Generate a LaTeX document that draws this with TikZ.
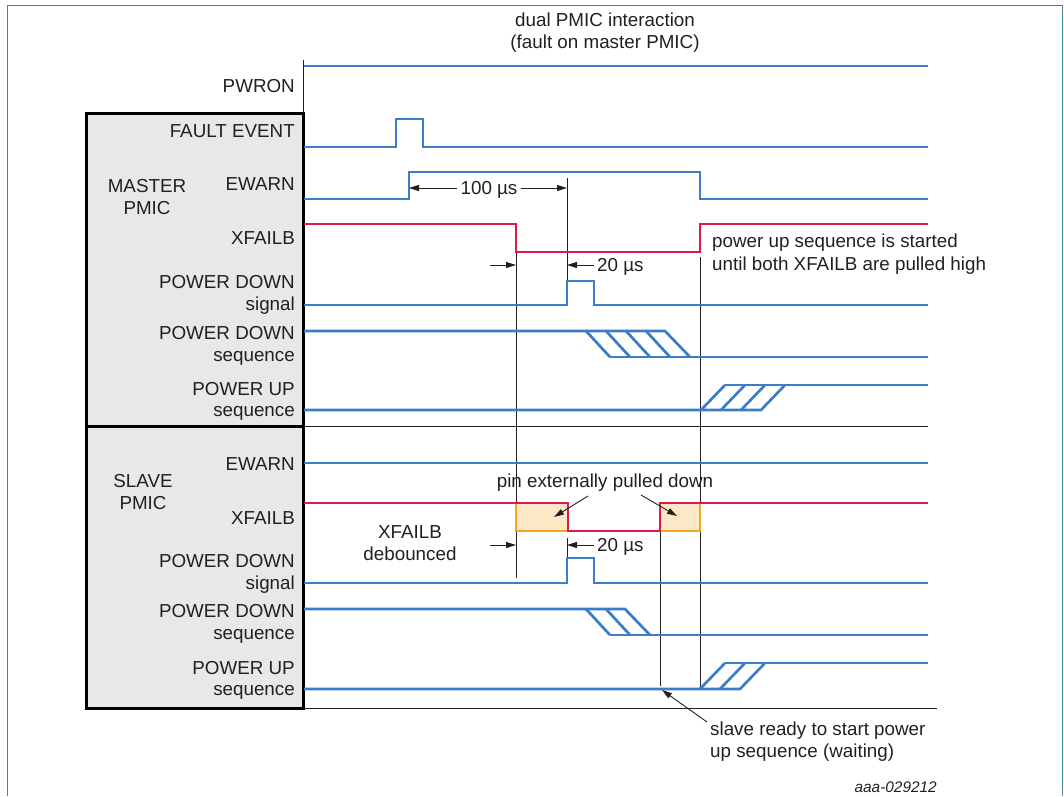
\documentclass[tikz,border=0pt]{standalone}
\usepackage{fontspec}
\setmainfont{Liberation Sans}
\usetikzlibrary{arrows.meta}
\definecolor{sigblue}{HTML}{3B7DC8}
\definecolor{sigred}{HTML}{E2184C}
\definecolor{pinor}{HTML}{F4A623}
\definecolor{pinfill}{HTML}{FCE8C6}
\definecolor{boxgray}{HTML}{E7E8E8}
\definecolor{framec}{HTML}{3A8BA0}
\definecolor{txt}{HTML}{231F20}
\begin{document}
\begin{tikzpicture}[x=1pt,y=-1pt,
  font=\fontsize{18.8}{22}\selectfont,
  lab/.style={anchor=base east, inner sep=0pt, text=txt},
  grp/.style={align=center, inner sep=0pt, text=txt},
  note/.style={anchor=base west, inner sep=0pt, text=txt},
  dimtxt/.style={inner sep=3pt, text height=13pt, text depth=0pt, text=txt},
  sig/.style={draw=sigblue, line width=2.7pt, line join=miter},
  xsig/.style={draw=sigred, line width=2.7pt, line join=miter},
  pinbox/.style={draw=pinor, line width=2.4pt, line join=miter},
  thinl/.style={draw=txt, line width=0.9pt},
  dim/.style={draw=txt, line width=0.9pt, -{Triangle[length=10pt,width=6pt]}},
  boxst/.style={draw=black, line width=3pt, fill=boxgray}]
\useasboundingbox (0,0) rectangle (1064,796);
% outer frame
\draw[framec, line width=1pt] (7,796) -- (7,5) -- (1062,5) -- (1062,796);

% key x positions
\coordinate (xE) at (409,0);
\coordinate (xA) at (516,0);
\coordinate (xB) at (567,0);
\coordinate (xD) at (660,0);
\coordinate (xC) at (700,0);

% group boxes
\draw[boxst] (86,113) rectangle (303,426);
\draw[boxst] (86,426) rectangle (303,708);

% axis and separators
\draw[thinl] (303,60) -- (303,113);
\draw[thinl] (304,426) -- (928,426);
\draw[thinl] (304,708) -- (937,708);

% title
\node[grp] (title) at (605,33) {dual PMIC interaction\\(fault on master PMIC)};

% labels
\node[lab] (lpwron) at (295,92) {PWRON};
\node[lab] (lfault) at (295,137) {FAULT EVENT};
\node[lab] (lmew) at (295,190) {EWARN};
\node[grp] (lmaster) at (147,197) {MASTER\\PMIC};
\node[lab] (lmxf) at (295,244) {XFAILB};
\node[lab] (lmpd1) at (295,288) {POWER DOWN};
\node[lab] (lmpd2) at (295,310) {signal};
\node[lab] (lmps1) at (295,339) {POWER DOWN};
\node[lab] (lmps2) at (295,361) {sequence};
\node[lab] (lmpu1) at (295,395) {POWER UP};
\node[lab] (lmpu2) at (295,416) {sequence};
\node[lab] (lsew) at (295,470) {EWARN};
\node[grp] (lslave) at (143,492) {SLAVE\\PMIC};
\node[lab] (lsxf) at (295,524) {XFAILB};
\node[lab] (lspd1) at (295,567) {POWER DOWN};
\node[lab] (lspd2) at (295,589) {signal};
\node[lab] (lsps1) at (295,617) {POWER DOWN};
\node[lab] (lsps2) at (295,639) {sequence};
\node[lab] (lspu1) at (295,674) {POWER UP};
\node[lab] (lspu2) at (295,695) {sequence};

% thin guide lines
\draw[thinl] (567,178) -- (567,281);
\draw[thinl] (516,252) -- (516,578);
\draw[thinl] (700,257) -- (700,689);
\draw[thinl] (660,531) -- (660,686);
\draw[thinl] (567,538) -- (567,558);

% ---- signals, master
\draw[sig] (304,66) -- (928,66);
\draw[sig] (304,147) -- (396,147) -- (396,119) -- (423,119) -- (423,147) -- (928,147);
\draw[sig] (304,199) -- (409,199) -- (409,172) -- (700,172) -- (700,199) -- (928,199);
\draw[xsig] (304,224) -- (516,224) -- (516,252) -- (700,252) -- (700,224) -- (928,224);
\draw[sig] (304,305) -- (567,305) -- (567,281) -- (594,281) -- (594,305) -- (928,305);
% power down sequence (master)
\draw[sig] (304,331) -- (665,331) -- (690,357);
\draw[sig] (610,357) -- (928,357);
\draw[sig] (586,331) -- (610,357);
\draw[sig] (606,331) -- (630,357);
\draw[sig] (626,331) -- (650,357);
\draw[sig] (646,331) -- (670,357);
% power up sequence (master)
\draw[sig] (304,410) -- (761,410) -- (785,385);
\draw[sig] (725,385) -- (928,385);
\draw[sig] (701,410) -- (725,385);
\draw[sig] (721,410) -- (745,385);
\draw[sig] (741,410) -- (765,385);

% ---- signals, slave
\draw[sig] (304,463) -- (928,463);
\fill[pinfill] (516,503) rectangle (568,531);
\fill[pinfill] (660,503) rectangle (700,531);
\draw[pinbox] (516,503) -- (516,531) -- (568,531);
\draw[pinbox] (660,531) -- (700,531) -- (700,503);
\draw[xsig] (304,503) -- (568,503) -- (568,531) -- (660,531) -- (660,503) -- (928,503);
\draw[sig] (304,583) -- (567,583) -- (567,558) -- (594,558) -- (594,583) -- (928,583);
% power down sequence (slave)
\draw[sig] (304,609) -- (625,609) -- (650,635);
\draw[sig] (610,635) -- (928,635);
\draw[sig] (586,609) -- (610,635);
\draw[sig] (606,609) -- (630,635);
% power up sequence (slave)
\draw[sig] (304,689) -- (740,689) -- (765,663);
\draw[sig] (725,663) -- (928,663);
\draw[sig] (700,689) -- (725,663);
\draw[sig] (720,689) -- (745,663);

% ---- dimensions
\node[dimtxt] (t100) at (489,188) {100 µs};
\draw[dim] (t100.west) -- (t100.west -| xE);
\draw[dim] (t100.east) -- (t100.east -| xB);

\node[dimtxt, anchor=west] (t20m) at (594,265) {20 µs};
\draw[dim] (t20m.west) -- (t20m.west -| xB);
\coordinate (l20m) at (490,265);
\draw[dim] (l20m) -- (l20m -| xA);

\node[dimtxt, anchor=west] (t20s) at (594,545) {20 µs};
\draw[dim] (t20s.west) -- (t20s.west -| xB);
\coordinate (l20s) at (490,545);
\draw[dim] (l20s) -- (l20s -| xA);

% ---- notes
\node[note] (nup1) at (712,247) {power up sequence is started};
\node[note] (nup2) at (712,270) {until both XFAILB are pulled high};
\node[grp, anchor=base] (npin) at (605,487) {pin externally pulled down};
\coordinate (pa1) at (588,496);
\coordinate (pa2) at (554,517);
\coordinate (pb1) at (641,495);
\coordinate (pb2) at (677,516);
\draw[dim] (pa1) -- (pa2);
\draw[dim] (pb1) -- (pb2);
\node[grp] (ndeb) at (410,543) {XFAILB\\debounced};
\node[note] (nsl1) at (710,735) {slave ready to start power};
\node[note] (nsl2) at (710,757) {up sequence (waiting)};
\coordinate (sa1) at (707,722);
\coordinate (sa2) at (662,690);
\draw[dim] (sa1) -- (sa2);
\node[anchor=base east, inner sep=0pt, text=txt, font=\fontsize{15.4}{18}\selectfont\itshape] (code) at (937,792) {aaa-029212};
\end{tikzpicture}
\end{document}
